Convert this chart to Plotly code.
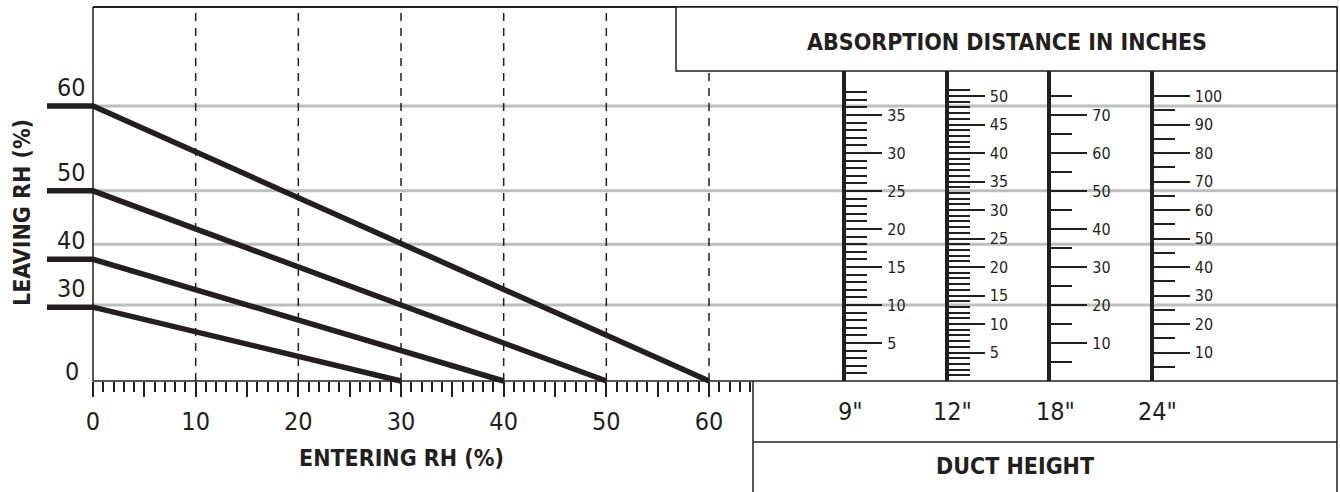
import plotly.graph_objects as go

W, H = 1340, 492
INK = "#231f20"
GUIDE = "#bcbec0"
FONT = "Liberation Sans Narrow, DejaVu Sans Condensed, Arial Narrow, sans-serif"

# --- data ---
entering_major = list(range(0, 61, 5))
entering_labels = [str(v) if v % 10 == 0 else "" for v in entering_major]
entering_minor = [v for v in range(1, 65) if v % 5 != 0]
# leaving RH curves: start height on the common nomogram scale
# (height = absorption distance / duct height)
leaving_rh = [60, 50, 40, 30]
leaving_start = [4.02, 2.78, 1.78, 1.08]
guide_levels = [4.02, 2.78, 2.00, 1.11]
duct_heights = [9, 12, 18, 24]
duct_labels = ['9"', '12"', '18"', '24"']
duct_major = [list(range(5, 36, 5)), list(range(5, 51, 5)),
              list(range(10, 71, 10)), list(range(10, 101, 10))]
duct_minor = [[v for v in range(1, 39) if v % 5],
              [v for v in range(1, 52) if v % 5],
              [v for v in range(5, 76, 10)],
              [v for v in range(5, 96, 10)]]

# --- geometry (pixels of the 1340x492 page) ---
X0_PX, X_PER = 93, 616 / 60      # entering RH 0 and px per %
Y0_PX, Y_PER = 381, 68.4         # baseline and px per unit height
TOP_PX, RIGHT_PX = 7, 1337
BOX_L, BOX_B = 676, 71
DUCT_L, DUCT_MID = 753, 442
STUB_PX = 47
SCALE_PX0, SCALE_STEP = 844.3, 102.5


def xd(px):
    return (px - X0_PX) / X_PER


def yd(py):
    return (Y0_PX - py) / Y_PER


def xp(px):
    return px / W


def yp(py):
    return 1 - py / H


fig = go.Figure()

# grey guide lines
gx, gy = [], []
for g in guide_levels:
    gx += [0, xd(RIGHT_PX), None]
    gy += [g, g, None]
fig.add_trace(go.Scatter(x=gx, y=gy, mode="lines", hoverinfo="skip",
                         line=dict(color=GUIDE, width=3)))

# leaving RH lines
for rh, h in zip(leaving_rh, leaving_start):
    fig.add_trace(go.Scatter(x=[xd(STUB_PX), 0, rh], y=[h, h, 0], mode="lines",
                             line=dict(color=INK, width=5.5), name=f"{rh}%"))

# dashed verticals
shapes = []
for v in range(10, 61, 10):
    top = TOP_PX if X0_PX + v * X_PER < BOX_L else BOX_B
    shapes.append(dict(type="line", xref="x", yref="y", x0=v, x1=v, y0=0, y1=yd(top),
                       line=dict(color=INK, width=1.5, dash="8px,7px")))


# frame
def seg(x0, y0, x1, y1, w=1.5):
    return dict(type="line", xref="paper", yref="paper", x0=xp(x0), x1=xp(x1),
                y0=yp(y0), y1=yp(y1), line=dict(color=INK, width=w))


shapes += [
    seg(X0_PX, TOP_PX, RIGHT_PX, TOP_PX, 2),
    seg(X0_PX, TOP_PX, X0_PX, Y0_PX),
    seg(X0_PX, Y0_PX, RIGHT_PX, Y0_PX),
    seg(RIGHT_PX, TOP_PX, RIGHT_PX, H),
    dict(type="rect", xref="paper", yref="paper", x0=xp(BOX_L), x1=xp(RIGHT_PX),
         y0=yp(BOX_B), y1=yp(TOP_PX), fillcolor="white", line=dict(color=INK, width=1.5)),
    seg(DUCT_L, Y0_PX, DUCT_L, H),
    seg(DUCT_L, DUCT_MID, RIGHT_PX, DUCT_MID),
]

ann = []
num_font = dict(family=FONT, size=25, color=INK)
for rh, h in zip(leaving_rh, leaving_start):
    ann.append(dict(x=xd(71), y=h, xref="x", yref="y", text=str(rh), showarrow=False,
                    yanchor="bottom", yshift=2, font=num_font))
ann.append(dict(x=xd(72), y=0, xref="x", yref="y", text="0", showarrow=False,
                yanchor="bottom", yshift=-7, font=num_font))

bold = dict(family=FONT, size=23, color=INK)


def title(text, px, py, angle=0):
    return dict(x=xp(px), y=yp(py), xref="paper", yref="paper", xanchor="center",
                yanchor="middle", text=f"<b>{text}</b>", showarrow=False,
                textangle=angle, font=bold)


ann += [
    title("ABSORPTION DISTANCE IN INCHES", (BOX_L + RIGHT_PX) / 2, 42),
    title("DUCT HEIGHT", 1015, 466),
    title("ENTERING RH (%)", 401, 458),
    title("LEAVING RH (%)", 22, 213, -90),
]

layout_axes = {}
for i, (d, lab) in enumerate(zip(duct_heights, duct_labels)):
    px = SCALE_PX0 + i * SCALE_STEP
    layout_axes[f"yaxis{i + 2}"] = dict(
        anchor="free", position=xp(px), side="right",
        domain=[yp(Y0_PX), yp(BOX_B)], range=[0, yd(BOX_B) * d],
        showline=True, linecolor=INK, linewidth=3.5,
        ticks="outside", tickvals=duct_major[i], ticktext=[str(v) for v in duct_major[i]],
        ticklen=36, tickwidth=1.5, tickcolor=INK, ticklabelstandoff=2,
        tickfont=dict(family=FONT, size=16, color=INK),
        minor=dict(tickvals=duct_minor[i], ticklen=21, tickwidth=1.5, tickcolor=INK,
                   ticks="outside", showgrid=False),
        showgrid=False, zeroline=False, fixedrange=True,
    )
    fig.add_trace(go.Scatter(x=[None], y=[None], yaxis=f"y{i + 2}", showlegend=False,
                             hoverinfo="skip"))
    ann.append(dict(x=xd(px + 6), y=yd(411), xref="x", yref="y", text=lab,
                    showarrow=False, font=num_font))

fig.update_layout(
    width=W, height=H, margin=dict(l=0, r=0, t=0, b=0),
    paper_bgcolor="white", plot_bgcolor="rgba(0,0,0,0)", showlegend=False,
    font=dict(family=FONT, color=INK),
    xaxis=dict(range=[xd(0), xd(W)], anchor="free", position=yp(Y0_PX),
               showline=False, showgrid=False, zeroline=False,
               ticks="outside", tickvals=entering_major, ticktext=entering_labels,
               ticklen=15, tickwidth=1.5, tickcolor=INK,
               tickfont=num_font, ticklabelstandoff=3,
               minor=dict(tickvals=entering_minor, ticklen=10, tickwidth=1.5,
                          tickcolor=INK, ticks="outside", showgrid=False)),
    yaxis=dict(range=[yd(H), yd(0)], visible=False, fixedrange=True),
    shapes=shapes, annotations=ann,
    **layout_axes,
)

fig.write_html("out.html", config={"displayModeBar": False},
               post_script="document.body.style.margin='0px';")
